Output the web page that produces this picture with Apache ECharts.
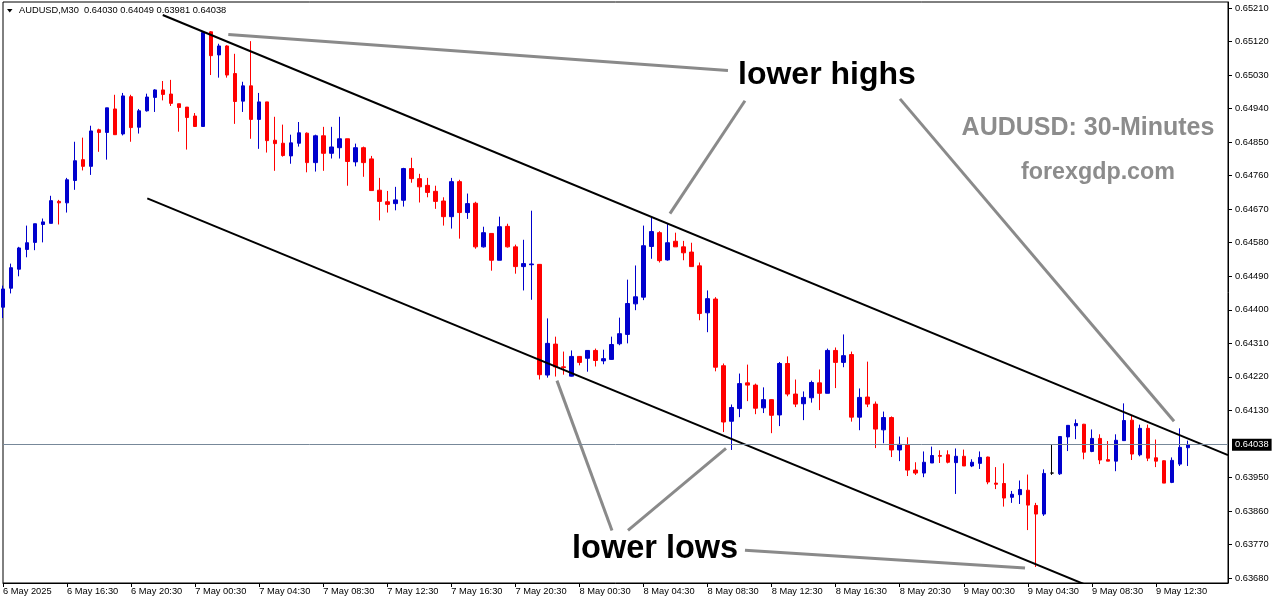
<!DOCTYPE html>
<html><head><meta charset="utf-8">
<script src="https://cdn.jsdelivr.net/npm/echarts@6/dist/echarts.min.js"></script>
<style>html,body{margin:0;padding:0;background:#fff}#c{width:1276px;height:604px}</style>
</head><body><div id="c"></div>
<script>
const symbol = 'AUDUSD';
const timeframe = 'M30';
const opens = [0.64407,0.64458,0.64509,0.64562,0.64581,0.64629,0.64632,0.64691,0.64687,0.64747,
0.64803,0.64785,0.64883,0.64876,0.64939,0.64872,0.64972,0.64890,0.64934,0.64970,
0.64990,0.64979,0.64953,0.64944,0.64920,0.64892,0.65146,0.65084,0.65108,0.65034,
0.64960,0.65001,0.64911,0.64958,0.64855,0.64847,0.64813,0.64847,0.64874,0.64795,
0.64867,0.64820,0.64835,0.64859,0.64797,0.64835,0.64805,0.64721,0.64690,0.64685,
0.64694,0.64779,0.64752,0.64734,0.64718,0.64692,0.64650,0.64744,0.64661,0.64686,
0.64569,0.64605,0.64533,0.64624,0.64569,0.64516,0.64521,0.64522,0.64225,0.64308,
0.64247,0.64222,0.64275,0.64270,0.64291,0.64263,0.64267,0.64309,0.64334,0.64416,
0.64434,0.64570,0.64607,0.64534,0.64584,0.64569,0.64555,0.64518,0.64392,0.64429,
0.64250,0.64101,0.64135,0.64204,0.64198,0.64137,0.64159,0.64118,0.64256,0.64174,
0.64148,0.64164,0.64204,0.64176,0.64291,0.64259,0.64280,0.64112,0.64166,0.64147,
0.64078,0.64111,0.64024,0.64037,0.63970,0.63962,0.63989,0.64009,0.64011,0.63990,
0.64007,0.63981,0.63988,0.64005,0.63935,0.63934,0.63897,0.63904,0.63916,0.63875,
0.63852,0.63962,0.63960,0.64059,0.64089,0.64093,0.64020,0.64055,0.63998,0.63994,
0.64049,0.64104,0.64011,0.64082,0.64003,0.63995,0.63937,0.63986,0.64030];
const closes = [0.64456,0.64513,0.64566,0.64580,0.64631,0.64636,0.64693,0.64687,0.64749,0.64800,
0.64785,0.64880,0.64876,0.64942,0.64870,0.64974,0.64889,0.64934,0.64971,0.64990,
0.64978,0.64954,0.64943,0.64916,0.64892,0.65144,0.65082,0.65108,0.65030,0.64959,
0.65001,0.64911,0.64958,0.64854,0.64846,0.64814,0.64848,0.64875,0.64795,0.64867,
0.64820,0.64837,0.64859,0.64798,0.64835,0.64795,0.64720,0.64691,0.64683,0.64695,
0.64779,0.64752,0.64730,0.64715,0.64691,0.64650,0.64744,0.64661,0.64685,0.64569,
0.64607,0.64533,0.64623,0.64569,0.64516,0.64524,0.64523,0.64226,0.64310,0.64247,
0.64245,0.64275,0.64259,0.64291,0.64264,0.64269,0.64307,0.64336,0.64417,0.64435,
0.64572,0.64610,0.64532,0.64580,0.64569,0.64553,0.64516,0.64390,0.64430,0.64246,
0.64099,0.64138,0.64202,0.64198,0.64136,0.64159,0.64117,0.64256,0.64174,0.64147,
0.64165,0.64205,0.64176,0.64291,0.64259,0.64277,0.64112,0.64165,0.64147,0.64080,
0.64111,0.64024,0.64039,0.63970,0.63962,0.63991,0.64009,0.64007,0.63991,0.64007,
0.63981,0.63991,0.64004,0.63938,0.63932,0.63895,0.63905,0.63918,0.63876,0.63852,
0.63961,0.63962,0.64060,0.64090,0.64095,0.64018,0.64055,0.63997,0.63994,0.64050,
0.64103,0.64013,0.64082,0.64002,0.63994,0.63935,0.63996,0.64031,0.64038];
const lows = [0.64378,0.64444,0.64490,0.64541,0.64560,0.64581,0.64632,0.64629,0.64661,0.64722,
0.64774,0.64762,0.64824,0.64803,0.64870,0.64868,0.64851,0.64873,0.64932,0.64931,
0.64962,0.64947,0.64878,0.64830,0.64892,0.64892,0.65030,0.65023,0.65023,0.64899,
0.64931,0.64859,0.64832,0.64822,0.64773,0.64811,0.64792,0.64838,0.64769,0.64771,
0.64773,0.64806,0.64806,0.64733,0.64785,0.64757,0.64720,0.64640,0.64661,0.64667,
0.64677,0.64741,0.64688,0.64702,0.64671,0.64626,0.64618,0.64591,0.64644,0.64564,
0.64567,0.64505,0.64533,0.64567,0.64497,0.64452,0.64427,0.64213,0.64218,0.64221,
0.64226,0.64221,0.64251,0.64234,0.64248,0.64254,0.64266,0.64305,0.64310,0.64399,
0.64426,0.64537,0.64527,0.64532,0.64569,0.64533,0.64516,0.64372,0.64340,0.64235,
0.64072,0.64024,0.64112,0.64155,0.64120,0.64123,0.64069,0.64088,0.64168,0.64139,
0.64104,0.64151,0.64131,0.64176,0.64190,0.64246,0.64100,0.64077,0.64139,0.64029,
0.64042,0.64005,0.63994,0.63954,0.63957,0.63951,0.63989,0.63989,0.63988,0.63906,
0.63981,0.63978,0.63973,0.63932,0.63919,0.63872,0.63882,0.63879,0.63809,0.63710,
0.63847,0.63957,0.63957,0.64021,0.64053,0.63999,0.64018,0.63986,0.63994,0.63967,
0.64048,0.63997,0.64007,0.63994,0.63978,0.63935,0.63935,0.63981,0.63981];
const highs = [0.64465,0.64524,0.64569,0.64626,0.64631,0.64645,0.64706,0.64695,0.64754,0.64851,
0.64862,0.64894,0.64886,0.64942,0.64977,0.64982,0.64977,0.64939,0.64980,0.64992,
0.65014,0.65017,0.64953,0.64944,0.64928,0.65147,0.65148,0.65114,0.65110,0.65087,
0.65012,0.65121,0.64982,0.64958,0.64918,0.64897,0.64870,0.64904,0.64876,0.64870,
0.64891,0.64891,0.64918,0.64859,0.64846,0.64838,0.64813,0.64754,0.64719,0.64730,
0.64781,0.64808,0.64765,0.64754,0.64733,0.64702,0.64754,0.64749,0.64712,0.64690,
0.64623,0.64605,0.64650,0.64631,0.64575,0.64588,0.64666,0.64523,0.64377,0.64328,
0.64288,0.64291,0.64276,0.64292,0.64296,0.64293,0.64328,0.64379,0.64481,0.64519,
0.64626,0.64647,0.64611,0.64631,0.64607,0.64585,0.64580,0.64527,0.64452,0.64434,
0.64256,0.64146,0.64229,0.64253,0.64202,0.64192,0.64160,0.64260,0.64275,0.64213,
0.64181,0.64210,0.64240,0.64296,0.64299,0.64334,0.64288,0.64189,0.64261,0.64154,
0.64127,0.64114,0.64060,0.64058,0.63991,0.64020,0.64033,0.64023,0.64023,0.64028,
0.64025,0.63999,0.64020,0.64006,0.63978,0.63988,0.63914,0.63942,0.63958,0.63882,
0.63972,0.64039,0.64061,0.64090,0.64106,0.64094,0.64079,0.64066,0.64048,0.64066,
0.64149,0.64117,0.64092,0.64092,0.64052,0.63996,0.64004,0.64082,0.64049];
const xTickLabels = ['6 May 2025','6 May 16:30','6 May 20:30','7 May 00:30','7 May 04:30','7 May 08:30',
'7 May 12:30','7 May 16:30','7 May 20:30','8 May 00:30','8 May 04:30','8 May 08:30','8 May 12:30',
'8 May 16:30','8 May 20:30','9 May 00:30','9 May 04:30','9 May 08:30','9 May 12:30'];
const yTickLabels = [0.65210,0.65120,0.65030,0.64940,0.64850,0.64760,0.64670,0.64580,0.64490,0.64400,
0.64310,0.64220,0.64130,0.63950,0.63860,0.63770,0.63680];
const currentPrice = 0.64038;
const yMin = 0.63667, yMax = 0.65226;
const barsPerLabel = 8;
const emptySlots = 5;
// annotation lines: [barIndex, price]
const upperChannel = [[19.95,0.65191],[153,0.64010]];
const lowerChannel = [[18.02,0.64699],[153,0.63505]];
const pointerLines = [
  [[28.14,0.65139],[90.55,0.65042]],
  [[83.3,0.64658],[92.67,0.64961]],
  [[112.03,0.64966],[146.26,0.64101]],
  [[69.19,0.64210],[76.06,0.63808]],
  [[78.06,0.63808],[90.3,0.64028]],
  [[92.67,0.63755],[127.65,0.63707]]
];

const total = opens.length + emptySlots;
const categories = [];
const t0 = Date.UTC(2025,4,6,12,30);
for (let i = 0; i < total; i++) {
  const d = new Date(t0 + i*30*60000);
  categories.push(d.getUTCDate()+' May '+String(d.getUTCHours()).padStart(2,'0')+':'+String(d.getUTCMinutes()).padStart(2,'0'));
}
const candles = opens.map((o,i)=>[o, closes[i], lows[i], highs[i]]);
const showTick = (idx) => idx % barsPerLabel === 0 && idx / barsPerLabel < xTickLabels.length;
const FONT = '"Liberation Sans", Arial, sans-serif';
const last = opens.length - 1;
const header = symbol + ',' + timeframe + '  ' + [opens[last],highs[last],lows[last],closes[last]].map(v=>v.toFixed(5)).join(' ');

const lineSeries = (data, color, width, extra) => Object.assign({
  type:'line', xAxisIndex:1, yAxisIndex:0, data, symbol:'none', silent:true, animation:false, clip:true,
  lineStyle:{color, width}, emphasis:{disabled:true}
}, extra || {});

const chart = echarts.init(document.getElementById('c'));
chart.setOption({
  animation:false,
  backgroundColor:'#fff',
  grid:{left:3, right:48, top:2, bottom:21, show:true, borderColor:'#000', borderWidth:1, outerBoundsMode:'none'},
  xAxis:[{
    type:'category', data:categories, boundaryGap:false,
    axisLine:{show:true, onZero:false, lineStyle:{color:'#000', width:1}},
    axisTick:{show:true, interval:showTick, length:4, lineStyle:{color:'#000'}},
    axisLabel:{interval:showTick, formatter:(v,idx)=>xTickLabels[idx/barsPerLabel] || '', align:'left', margin:4,
      color:'#000', fontSize:9.3, fontFamily:FONT},
    splitLine:{show:false}
  },{
    type:'value', min:0, max:total-1, show:false,
    axisLine:{onZero:false}
  }],
  yAxis:{
    type:'value', position:'right', min:yMin, max:yMax,
    axisLine:{show:true, onZero:false, lineStyle:{color:'#000'}},
    axisTick:{show:true, customValues:yTickLabels, length:4, lineStyle:{color:'#000'}},
    axisLabel:{customValues:yTickLabels, formatter:v=>v.toFixed(5), margin:7, color:'#000', fontSize:9.3, fontFamily:FONT},
    splitLine:{show:false}
  },
  series:[
    {
      type:'candlestick', data:candles, barWidth:4, clip:true, silent:true,
      itemStyle:{color:'#0000CD', color0:'#FF0000', borderColor:'#0000CD', borderColor0:'#FF0000', borderColorDoji:'#000', borderWidth:1},
      emphasis:{disabled:true}
    },
    lineSeries(upperChannel,'#000',2, {
      markLine:{
        symbol:['none','none'], silent:true, animation:false, precision:5,
        data:[{yAxis:currentPrice}],
        lineStyle:{color:'#778899', width:1, type:'solid'},
        label:{show:true, position:'end', formatter:()=>currentPrice.toFixed(5), color:'#fff', backgroundColor:'#000',
          padding:[2,3,1,3], distance:4, fontSize:9.3, fontFamily:FONT}
      }
    }),
    lineSeries(lowerChannel,'#000',2),
    ...pointerLines.map(p=>lineSeries(p,'#8a8a8a',3))
  ],
  graphic:[
    {type:'polygon', shape:{points:[[7,9],[12.5,9],[9.75,12.5]]}, style:{fill:'#000'}},
    {type:'text', x:19, y:10.5, style:{text:header, font:'9.3px '+FONT, fill:'#000', textVerticalAlign:'middle'}},
    {type:'text', x:738, y:75, style:{text:'lower highs', font:'bold 32px '+FONT, fill:'#000', textVerticalAlign:'middle'}},
    {type:'text', x:572, y:549, style:{text:'lower lows', font:'bold 32.5px '+FONT, fill:'#000', textVerticalAlign:'middle'}},
    {type:'text', x:1088, y:128, style:{text:'AUDUSD: 30-Minutes', font:'bold 25px '+FONT, fill:'#8c8c8c', textAlign:'center', textVerticalAlign:'middle'}},
    {type:'text', x:1098, y:173, style:{text:'forexgdp.com', font:'bold 23.3px '+FONT, fill:'#8c8c8c', textAlign:'center', textVerticalAlign:'middle'}}
  ]
});
</script></body></html>
